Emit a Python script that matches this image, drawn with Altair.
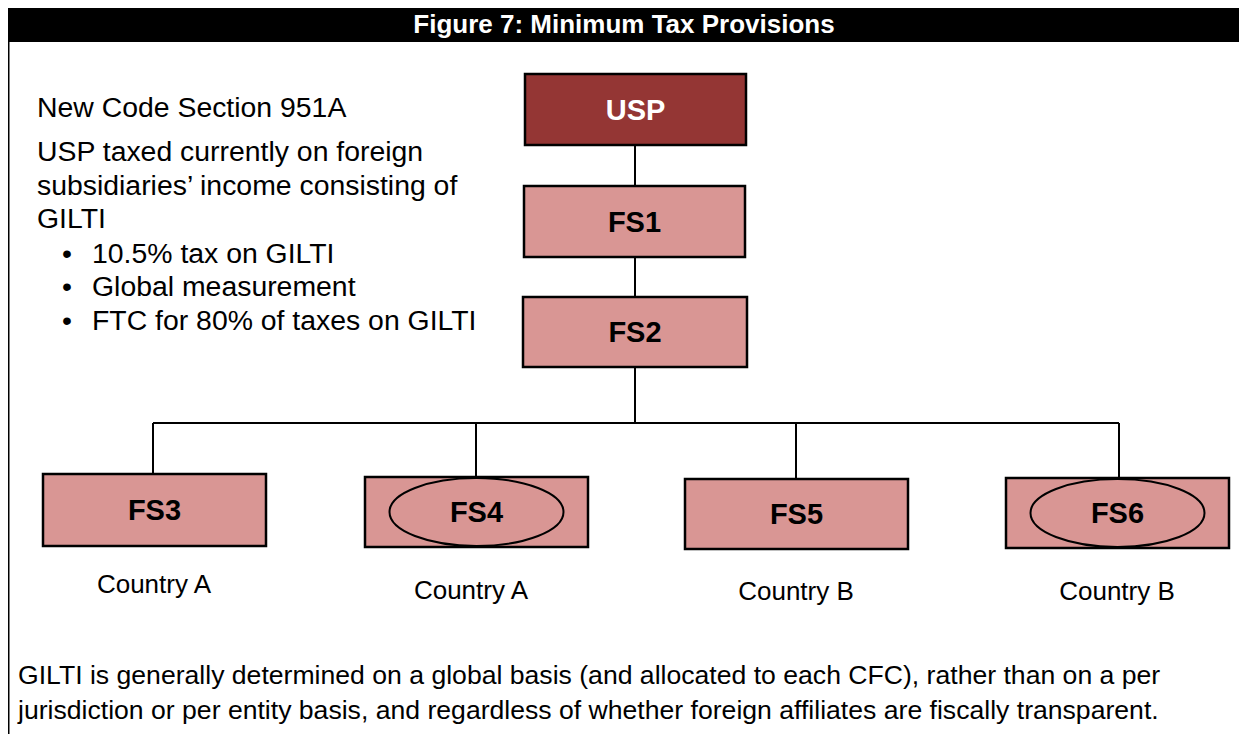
import altair as alt
import pandas as pd

FONT = "Liberation Sans"

# ---------------- content ----------------
title_text = "Figure 7: Minimum Tax Provisions"

node_names = ["USP", "FS1", "FS2", "FS3", "FS4", "FS5", "FS6"]
node_kind = ["parent", "sub", "sub", "sub", "sub", "sub", "sub"]
hybrid_nodes = ["FS4", "FS6"]

country_labels = ["Country A", "Country A", "Country B", "Country B"]
country_of = ["FS3", "FS4", "FS5", "FS6"]

left_lines = [
    "New Code Section 951A",
    "USP taxed currently on foreign",
    "subsidiaries\u2019 income consisting of",
    "GILTI",
]
bullet_lines = [
    "10.5% tax on GILTI",
    "Global measurement",
    "FTC for 80% of taxes on GILTI",
]
note_lines = [
    "GILTI is generally determined on a global basis (and allocated to each CFC), rather than on a per",
    "jurisdiction or per entity basis, and regardless of whether foreign affiliates are fiscally transparent.",
]

# ---------------- layout (pixel positions of the diagram) ----------------
box_x1 = [525, 524, 523, 43, 365, 685, 1006]
box_x2 = [746, 745, 747, 266, 588, 908, 1229]
box_y1 = [74, 186, 297, 474, 477, 479, 478]
box_y2 = [145, 257, 367, 546, 547, 549, 548]

country_x = [154, 471, 796, 1117]
country_y = [593, 599, 600, 600]

left_x = 37
left_y = [117, 161, 195, 228]
bullet_dot_x = 62
bullet_text_x = 92
bullet_y = [263, 296, 330]

note_x = 18
note_y = [684, 719]

trunk_x = 635
bus_y = 423
drop_x = [153, 476, 796, 1119]

# colours
DARK = "#943634"
LIGHT = "#D99694"
fill_of = {"parent": DARK, "sub": LIGHT}
text_of = {"parent": "white", "sub": "black"}

X_DOM = [8, 1239]
Y_DOM = [8, 734]
W = X_DOM[1] - X_DOM[0]
H = Y_DOM[1] - Y_DOM[0]

xs = alt.Scale(domain=X_DOM, nice=False, zero=False)
ys = alt.Scale(domain=Y_DOM, nice=False, zero=False, reverse=True)


def X(f):
    return alt.X(f, type="quantitative", scale=xs, axis=None)


def Y(f):
    return alt.Y(f, type="quantitative", scale=ys, axis=None)


# ---------------- data tables ----------------
boxes = pd.DataFrame({
    "name": node_names, "kind": node_kind,
    "x1": box_x1, "x2": box_x2, "y1": box_y1, "y2": box_y2,
})
boxes["cx"] = (boxes.x1 + boxes.x2) / 2
boxes["cy"] = (boxes.y1 + boxes.y2) / 2
boxes["fill"] = boxes.kind.map(fill_of)
boxes["tcol"] = boxes.kind.map(text_of)

header = pd.DataFrame({"x1": [2], "x2": [1239], "y1": [2], "y2": [42]})
title_df = pd.DataFrame({"t": [title_text], "x": [624], "y": [25]})
frame = pd.DataFrame({"x": [8.5], "y1": [42], "y2": [742]})

# connectors
top_box_of = dict(zip(node_names, box_y1))
bot_box_of = dict(zip(node_names, box_y2))
conn = pd.DataFrame({
    "x1": [trunk_x, trunk_x, trunk_x, drop_x[0]] + drop_x,
    "x2": [trunk_x, trunk_x, trunk_x, drop_x[-1]] + drop_x,
    "y1": [bot_box_of["USP"], bot_box_of["FS1"], bot_box_of["FS2"], bus_y] + [bus_y] * 4,
    "y2": [top_box_of["FS1"], top_box_of["FS2"], bus_y, bus_y]
          + [top_box_of[n] for n in country_of],
})

ell = boxes[boxes.name.isin(hybrid_nodes)].copy()

countries = pd.DataFrame({"t": country_labels, "x": country_x, "y": country_y})
left_df = pd.DataFrame({"t": left_lines, "x": [left_x] * len(left_lines), "y": left_y})
bullets_df = pd.DataFrame({"t": bullet_lines, "x": [bullet_text_x] * 3, "y": bullet_y})
dots_df = pd.DataFrame({"t": ["\u2022"] * 3, "x": [bullet_dot_x] * 3, "y": bullet_y})
note_df = pd.DataFrame({"t": note_lines, "x": [note_x] * 2, "y": note_y})

# ---------------- layers ----------------
header_l = alt.Chart(header).mark_rect(color="black").encode(
    x=X("x1"), x2="x2", y=Y("y1"), y2="y2")
title_l = alt.Chart(title_df).mark_text(
    font=FONT, fontSize=26, fontWeight="bold", color="white",
    align="center", baseline="middle").encode(x=X("x"), y=Y("y"), text="t")
frame_l = alt.Chart(frame).mark_rule(color="black", strokeWidth=2).encode(
    x=X("x"), y=Y("y1"), y2="y2")

conn_l = alt.Chart(conn).mark_rule(color="black", strokeWidth=2).encode(
    x=X("x1"), x2="x2", y=Y("y1"), y2="y2")

box_l = alt.Chart(boxes).mark_rect(stroke="black", strokeWidth=2.5, opacity=1).encode(
    x=X("x1"), x2="x2", y=Y("y1"), y2="y2",
    fill=alt.Fill("fill:N", scale=None))

ELLIPSE = "M -1 0 A 1 0.39 0 1 1 1 0 A 1 0.39 0 1 1 -1 0 Z"
ell_l = alt.Chart(ell).mark_point(
    shape=ELLIPSE, size=174 * 174, filled=False, stroke="black",
    strokeWidth=2, opacity=1).encode(x=X("cx"), y=Y("cy"))

label_l = alt.Chart(boxes).mark_text(
    font=FONT, fontSize=29, fontWeight="bold", align="center",
    baseline="middle", dy=1).encode(
    x=X("cx"), y=Y("cy"), text="name",
    color=alt.Color("tcol:N", scale=None))

country_l = alt.Chart(countries).mark_text(
    font=FONT, fontSize=26, color="black", align="center",
    baseline="alphabetic").encode(x=X("x"), y=Y("y"), text="t")

left_l = alt.Chart(left_df).mark_text(
    font=FONT, fontSize=28.4, color="black", align="left",
    baseline="alphabetic").encode(x=X("x"), y=Y("y"), text="t")
bul_l = alt.Chart(bullets_df).mark_text(
    font=FONT, fontSize=28.4, color="black", align="left",
    baseline="alphabetic").encode(x=X("x"), y=Y("y"), text="t")
dot_l = alt.Chart(dots_df).mark_text(
    font=FONT, fontSize=28.4, color="black", align="left",
    baseline="alphabetic").encode(x=X("x"), y=Y("y"), text="t")

note_l = alt.Chart(note_df).mark_text(
    font=FONT, fontSize=26.6, color="black", align="left",
    baseline="alphabetic").encode(x=X("x"), y=Y("y"), text="t")

chart = alt.layer(
    header_l, title_l, frame_l, conn_l, box_l, ell_l, label_l,
    country_l, left_l, bul_l, dot_l, note_l
).properties(
    width=W, height=H, padding=0,
    autosize=alt.AutoSizeParams(type="none"),
).configure_view(strokeWidth=0)

chart.save("out.html", embed_options={"renderer": "svg", "actions": False})
